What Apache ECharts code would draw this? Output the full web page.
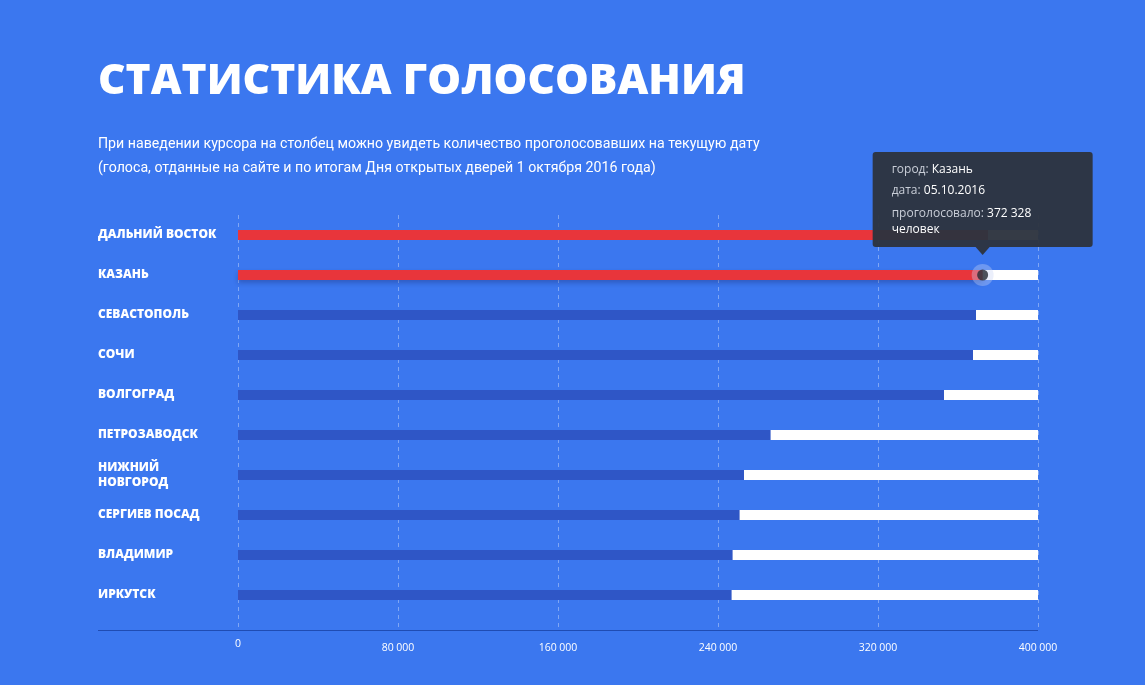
<!DOCTYPE html>
<html><head><meta charset="utf-8">
<script src="https://cdn.jsdelivr.net/npm/echarts@6/dist/echarts.min.js"></script>
<style>html,body{margin:0;padding:0;background:#3b77ef;}#c{width:1145px;height:685px;}</style>
</head><body><div id="c"></div>
<script>
const titleText = 'СТАТИСТИКА ГОЛОСОВАНИЯ';
const subtitleLines = [
  'При наведении курсора на столбец можно увидеть количество проголосовавших на текущую дату',
  '(голоса, отданные на сайте и по итогам Дня открытых дверей 1 октября 2016 года)'
];
const categories = ['ДАЛЬНИЙ ВОСТОК','КАЗАНЬ','СЕВАСТОПОЛЬ','СОЧИ','ВОЛГОГРАД','ПЕТРОЗАВОДСК','НИЖНИЙ\nНОВГОРОД','СЕРГИЕВ ПОСАД','ВЛАДИМИР','ИРКУТСК'];
const votes = [375000, 372328, 369000, 367500, 353000, 266300, 253000, 250800, 247300, 246800];
const highlightedIdx = [0, 1];
const axisMin = 0, axisMax = 400000, axisStep = 80000;
const tipIndex = 1;
const tipCity = 'Казань';
const tipDate = '05.10.2016';

const fmt = v => String(v).replace(/\B(?=(\d{3})+(?!\d))/g, ' ');

const chart = echarts.init(document.getElementById('c'));
const labelFont = '"Open Sans", sans-serif';
chart.setOption({
  animation: false,
  backgroundColor: '#3b77ef',
  grid: {left: 238, right: 107, top: 215, bottom: 70},
  xAxis: {
    type: 'value', min: axisMin, max: axisMax, interval: axisStep,
    axisLine: {show: false}, axisTick: {show: false},
    splitLine: {show: true, lineStyle: {color: 'rgba(255,255,255,0.35)', type: [4, 4], width: 1}},
    axisLabel: {
      color: '#ffffff', fontSize: 10.5, fontFamily: labelFont, margin: 28,
      formatter: v => v === 0 ? '{z|0}' : fmt(v),
      rich: {z: {color: '#ffffff', fontSize: 10.5, fontFamily: labelFont, lineHeight: 2}}
    }
  },
  yAxis: {
    type: 'category', inverse: true,
    data: categories.map(c => c.indexOf('\n') >= 0 ? {value: c, textStyle: {align: 'left', padding: [18, 0, 0, 0]}} : c),
    axisLine: {show: false}, axisTick: {show: false}, splitLine: {show: false},
    axisLabel: {color: '#ffffff', fontSize: 12, fontWeight: 800, fontFamily: labelFont, align: 'left', margin: 140, lineHeight: 15, padding: [6, 0, 0, 0]}
  },
  series: [
    {
      type: 'bar', barWidth: 10,
      showBackground: true, backgroundStyle: {color: '#ffffff'},
      data: votes.map((v, i) => highlightedIdx.includes(i)
        ? (i === tipIndex
            ? {value: v, itemStyle: {color: '#e8353b', shadowBlur: 5, shadowOffsetY: 3, shadowColor: 'rgba(20,30,90,0.3)'}}
            : {value: v, itemStyle: {color: '#e8353b'}})
        : {value: v, itemStyle: {color: '#2f56c6'}})
    },
    {
      type: 'scatter', symbol: 'circle', symbolSize: 22, z: 4, silent: true,
      itemStyle: {color: 'rgba(200,212,245,0.45)'},
      data: [[votes[tipIndex], tipIndex]]
    },
    {
      type: 'scatter', symbol: 'circle', symbolSize: 11, z: 5, silent: true,
      itemStyle: {color: '#262b33'},
      data: [[votes[tipIndex], tipIndex]]
    }
  ]
});

const pt = chart.convertToPixel({gridIndex: 0}, [votes[tipIndex], tipIndex]);
const tx = pt[0], ty = pt[1];
const boxW = 220, boxH = 95;
const boxL = tx - 110, boxT = ty - 123;
const rightPx = chart.convertToPixel({gridIndex: 0}, [axisMax, 0])[0];
const gridBottomPx = 685 - 70;
const baseY = 630.5;
const tipFont = '12px "Open Sans", sans-serif';

const graphics = [
  {type: 'text', left: 98, top: 60, style: {text: titleText, fill: '#ffffff', font: '800 42.5px "Open Sans", sans-serif'}},
  {type: 'text', left: 98, top: 132, style: {text: subtitleLines.join('\n'), fill: '#ffffff', font: '14.2px Roboto, sans-serif', lineHeight: 24}},
  {type: 'line', shape: {x1: 98, y1: baseY, x2: rightPx, y2: baseY}, style: {stroke: '#1f4cb3', lineWidth: 1}},
  {type: 'rect', z: 100, shape: {x: boxL, y: boxT, width: boxW, height: boxH, r: 3}, style: {fill: 'rgba(45,51,62,0.96)'}},
  {type: 'polygon', z: 100, shape: {points: [[tx - 7, boxT + boxH], [tx + 7, boxT + boxH], [tx, boxT + boxH + 8]]}, style: {fill: 'rgba(45,51,62,0.96)'}},
  {type: 'text', z: 101, left: boxL + 19, top: boxT + 12, style: {text: '{l|город: }{v|' + tipCity + '}', rich: {l: {fill: '#c9ced8', font: tipFont}, v: {fill: '#ffffff', font: tipFont}}}},
  {type: 'text', z: 101, left: boxL + 19, top: boxT + 33, style: {text: '{l|дата: }{v|' + tipDate + '}', rich: {l: {fill: '#c9ced8', font: tipFont}, v: {fill: '#ffffff', font: tipFont}}}},
  {type: 'text', z: 101, left: boxL + 19, top: boxT + 56, style: {text: '{l|проголосовало: }{v|' + fmt(votes[tipIndex]) + '}\n{v|человек}', rich: {l: {fill: '#c9ced8', font: tipFont, lineHeight: 16}, v: {fill: '#ffffff', font: tipFont, lineHeight: 16}}}}
];
for (let v = axisMin; v <= axisMax; v += axisStep) {
  const x = Math.round(chart.convertToPixel({gridIndex: 0}, [v, 0])[0]) + 0.5;
  graphics.push({type: 'line', shape: {x1: x, y1: gridBottomPx, x2: x, y2: baseY - 0.5}, style: {stroke: 'rgba(255,255,255,0.35)', lineWidth: 1, lineDash: [4, 4]}});
}
chart.setOption({graphic: graphics});
</script></body></html>
